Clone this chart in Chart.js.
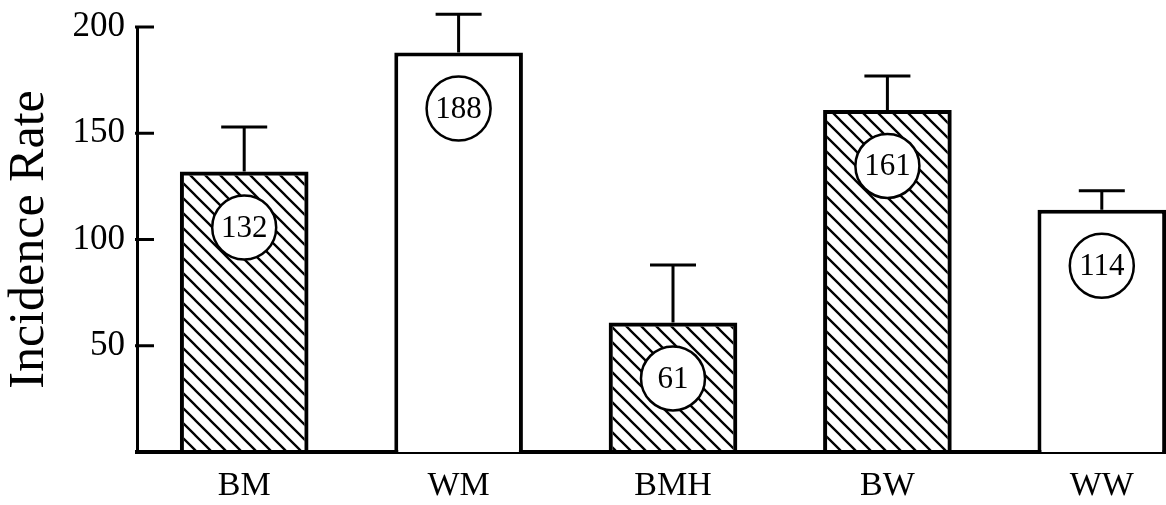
<!DOCTYPE html>
<html>
<head>
<meta charset="utf-8">
<script src="https://cdn.jsdelivr.net/npm/chart.js@4/dist/chart.umd.min.js"></script>
<style>
  html, body { margin: 0; padding: 0; background: #fff; overflow: hidden; }
</style>
</head>
<body>
<canvas id="rateChart" width="1209" height="505"></canvas>
<script>
// data
const categories = ['BM', 'WM', 'BMH', 'BW', 'WW'];
const rates = [132, 188, 61, 161, 114];
const errorTops = [153, 206, 88, 177, 123];
const hatched = [true, false, true, true, false];
const yTicks = [50, 100, 150, 200];

const serif = '"Liberation Serif", "Times New Roman", serif';

// diagonal "\" hatch used on the B groups
function makeHatch() {
    const s = 15;
    const c = document.createElement('canvas');
    c.width = s; c.height = s;
    const g = c.getContext('2d');
    g.strokeStyle = '#000';
    g.lineWidth = 2.3;
    g.beginPath();
    g.moveTo(0, 0); g.lineTo(s, s);
    g.moveTo(-1, s - 1); g.lineTo(1, s + 1);
    g.moveTo(s - 1, -1); g.lineTo(s + 1, 1);
    g.stroke();
    return g.createPattern(c, 'repeat');
}

// ticks on the y axis point into the plot
const innerTicks = {
    id: 'innerTicks',
    afterDraw(chart) {
        const { ctx, chartArea, scales } = chart;
        ctx.save();
        ctx.strokeStyle = '#000';
        ctx.lineWidth = 3;
        yTicks.forEach(v => {
            const y = scales.y.getPixelForValue(v);
            ctx.beginPath();
            ctx.moveTo(chartArea.left - 2, y);
            ctx.lineTo(chartArea.left + 17, y);
            ctx.stroke();
        });
        ctx.restore();
    }
};

// upper error bars + circled value labels
const barExtras = {
    id: 'barExtras',
    afterDatasetsDraw(chart) {
        const { ctx, scales } = chart;
        const meta = chart.getDatasetMeta(0);
        ctx.save();
        meta.data.forEach((bar, i) => {
            const top = scales.y.getPixelForValue(errorTops[i]);
            ctx.strokeStyle = '#000';
            ctx.lineWidth = 3;
            ctx.beginPath();
            ctx.moveTo(bar.x, bar.y);
            ctx.lineTo(bar.x, top);
            ctx.moveTo(bar.x - 23, top);
            ctx.lineTo(bar.x + 23, top);
            ctx.stroke();

            const cy = bar.y + 56;
            ctx.beginPath();
            ctx.arc(bar.x, cy, 32, 0, Math.PI * 2);
            ctx.fillStyle = '#fff';
            ctx.fill();
            ctx.lineWidth = 2.5;
            ctx.stroke();

            ctx.fillStyle = '#000';
            ctx.font = '31px ' + serif;
            ctx.textAlign = 'center';
            ctx.textBaseline = 'middle';
            ctx.fillText(String(rates[i]), bar.x, cy + 1);
        });
        ctx.restore();
    }
};

const hatch = makeHatch();

new Chart(document.getElementById('rateChart').getContext('2d'), {
    type: 'bar',
    data: {
        labels: categories,
        datasets: [{
            data: rates,
            backgroundColor: hatched.map(h => h ? hatch : '#fff'),
            borderColor: '#000',
            borderWidth: 4,
            barPercentage: 0.6,
            categoryPercentage: 1.0,
        }],
    },
    options: {
        responsive: false,
        animation: false,
        layout: { padding: { top: 27, right: 0, bottom: 0, left: 0 } },
        plugins: {
            legend: { display: false },
            tooltip: { enabled: false },
        },
        scales: {
            x: {
                grid: { display: false, drawTicks: false },
                border: { color: '#000', width: 4 },
                ticks: {
                    color: '#000',
                    font: { family: serif, size: 34 },
                    padding: 14,
                },
                afterFit: scale => { scale.height = 53; },
            },
            y: {
                min: 0,
                max: 200,
                afterBuildTicks: scale => { scale.ticks = yTicks.map(v => ({ value: v })); },
                grid: { display: false, drawTicks: false },
                border: { color: '#000', width: 3 },
                ticks: {
                    color: '#000',
                    font: { family: serif, size: 35 },
                    padding: 12,
                },
                title: {
                    display: true,
                    text: 'Incidence Rate',
                    color: '#000',
                    font: { family: serif, size: 50 },
                    padding: { top: 0, bottom: 0 },
                },
                afterFit: scale => {
                    scale.width = 137;
                    scale.paddingTop = 0;
                    scale.paddingBottom = 0;
                },
            },
        },
    },
    plugins: [innerTicks, barExtras],
});
</script>
</body>
</html>
